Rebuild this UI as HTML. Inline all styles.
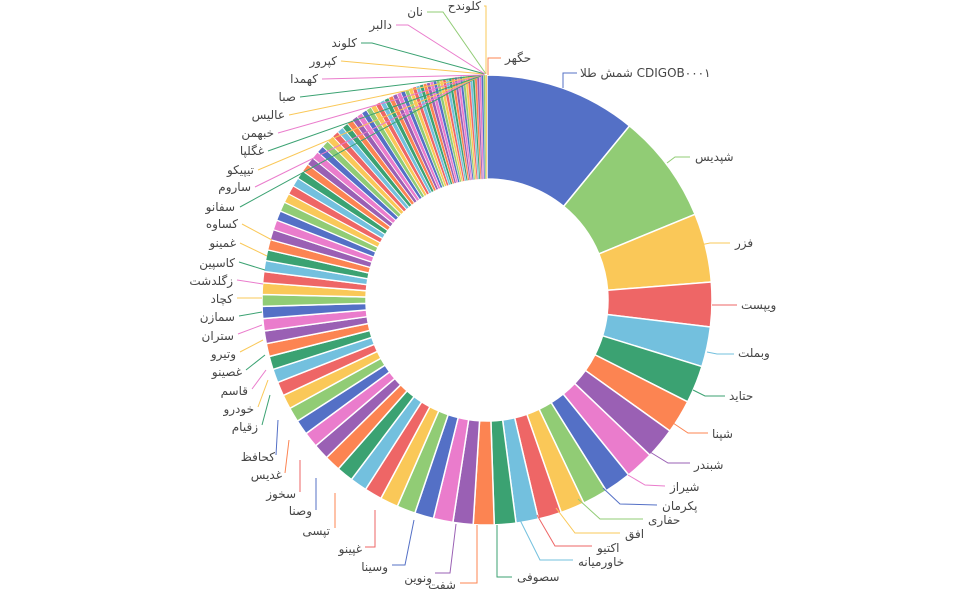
<!DOCTYPE html>
<html><head><meta charset="utf-8">
<style>
body{margin:0;background:#fff;width:974px;height:600px;overflow:hidden;position:relative;font-family:"Liberation Sans","Noto Sans CJK SC",sans-serif}
svg{position:absolute;left:0;top:0}
.l{position:absolute;font-size:12px;line-height:16px;color:#464646;white-space:nowrap;direction:rtl;font-family:"DejaVu Sans","Liberation Sans",sans-serif}
</style></head><body>
<svg id="s" width="974" height="600" xmlns="http://www.w3.org/2000/svg"></svg>
<div id="labs"></div>
<script>
const C=['#5470c6','#91cc75','#fac858','#ee6666','#73c0de','#3ba272','#fc8452','#9a60b4','#ea7ccc'];
const cx=487,cy=300,R=225,r=121;
let ends=[39.3,67.6,85.4,96.9,107.2,116.9,125.6,133.6,141,148];
function f(a){const p=[[148,6.5],[180,5.3],[220,4.2],[270,3.0],[300,2.3],[320,1.6],[340,1.0],[360,0.5]];
for(let i=1;i<p.length;i++){if(a<=p[i][0]){const t=(a-p[i-1][0])/(p[i][0]-p[i-1][0]);return p[i-1][1]+t*(p[i][1]-p[i-1][1]);}}return 0.5;}
let a=148;while(a<359.6){a+=f(a);if(a>360)a=360;ends.push(a);}
if(ends[ends.length-1]<360)ends.push(360);
function pt(rad,deg){const t=deg*Math.PI/180;return [cx+rad*Math.sin(t),cy-rad*Math.cos(t)];}
let h='',s=0;
ends.forEach((e,i)=>{const p1=pt(R,s),p2=pt(R,e),p3=pt(r,e),p4=pt(r,s);const lg=(e-s)>180?1:0;
const sw=Math.min(1.5,(e-s)*0.5).toFixed(2);
h+=`<path d="M${p1[0].toFixed(2)},${p1[1].toFixed(2)}A${R},${R} 0 ${lg} 1 ${p2[0].toFixed(2)},${p2[1].toFixed(2)}L${p3[0].toFixed(2)},${p3[1].toFixed(2)}A${r},${r} 0 ${lg} 0 ${p4[0].toFixed(2)},${p4[1].toFixed(2)}Z" fill="${C[i%9]}" stroke="#fff" stroke-width="${sw}" stroke-linejoin="round"/>`;s=e;});
const L=[
['CDIGOB۰۰۰۱ شمش طلا','R',580,73,[[563,88],[563,73],[577,73]],0],
['شپدیس','R',695,157,[[667,163],[675,157],[690,157]],1],
['فزر','R',735,243,[[700,245],[710,243],[730,243]],2],
['ویپست','R',741,305,[[712,305],[737,305]],3],
['وبملت','R',738,353,[[707,352],[717,354],[734,354]],4],
['حتاید','R',729,396,[[693,390],[705,396],[725,396]],5],
['شپنا','R',712,434,[[673,423],[688,433],[708,433]],6],
['شبندر','R',694,465,[[650,452],[668,463],[690,463]],7],
['شیراز','R',670,487,[[628,475],[645,485],[665,486]],8],
['پکرمان','R',662,506,[[603,488],[620,504],[657,505]],0],
['حفاری','R',648,520,[[578,499],[600,519],[643,519]],1],
['افق','R',625,534,[[556,508],[575,533],[620,533]],2],
['اکتیو','R',597,548,[[537,515],[555,546],[592,546]],3],
['خاورمیانه','R',578,562,[[520,520],[540,560],[573,560]],4],
['سصوفی','R',517,577,[[497,525],[497,577],[512,577]],5],
['شفت','L',456,585,[[477,525],[477,583],[460,583]],6],
['ونوین','L',432,578,[[456,524],[450,573],[435,573]],7],
['وسینا','L',388,567,[[414,520],[405,565],[392,565]],0],
['غپینو','L',362,549,[[375,510],[375,547],[365,547]],3],
['تپسی','L',330,531,[[335,493],[335,528]],6],
['وصنا','L',312,511,[[316,478],[316,510]],0],
['سخوز','L',296,494,[[300,460],[300,492]],3],
['غدیس','L',282,475,[[289,440],[285,473]],6],
['کحافظ','L',275,457,[[278,420],[276,455]],0],
['زقیام','L',258,427,[[270,395],[262,425]],5],
['خودرو','L',254,409,[[268,380],[258,407]],2],
['قاسم','L',248,391,[[266,370],[252,389]],8],
['غصینو','L',242,372,[[265,355],[246,370]],5],
['وتیرو','L',236,354,[[263,340],[240,352]],2],
['ستران','L',234,336,[[262,325],[238,334]],8],
['سمازن','L',235,317,[[262,312],[239,316]],5],
['کچاد','L',233,299,[[262,298],[237,298]],2],
['زگلدشت','L',233,281,[[263,284],[237,280]],8],
['کاسپین','L',235,263,[[265,270],[239,262]],5],
['غمینو','L',236,243,[[267,256],[240,243]],2],
['کساوه','L',238,224,[[272,240],[242,224]],2],
['سفانو','L',235,207,[[480,76],[240,207]],5],
['ساروم','L',251,187,[[480,76],[255,187]],8],
['تیپیکو','L',254,170,[[481,76],[258,170]],2],
['غگلپا','L',264,151,[[481,76],[268,151]],5],
['خبهمن','L',274,133,[[482,75],[278,133]],8],
['عالیس','L',285,115,[[482,75],[289,115]],2],
['صبا','L',296,97,[[483,75],[300,97]],5],
['کهمدا','L',318,79,[[484,75],[322,79]],8],
['کپرور','L',337,61,[[484,74],[341,61]],2],
['کلوند','L',357,43,[[485,74],[372,43],[361,43]],5],
['دالبر','L',392,25,[[485,74],[408,25],[396,25]],8],
['نان','L',423,12,[[486,74],[443,12],[427,12]],1],
['کلوندح','L',481,6,[[486,74],[486,6],[484,6]],2],
['حگهر','R',505,58,[[488,75],[488,58],[501,58]],6]
];
let lab='';
L.forEach(o=>{const col=C[o[5]];h+=`<polyline points="${o[4].map(p=>p.join(',')).join(' ')}" fill="none" stroke="${col}" stroke-width="1"/>`;
if(o[1]=='R')lab+=`<div class="l" style="left:${o[2]}px;top:${o[3]-8}px">${o[0]}</div>`;
else lab+=`<div class="l" style="right:${974-o[2]}px;top:${o[3]-8}px">${o[0]}</div>`;});
document.getElementById('s').innerHTML=h;document.getElementById('labs').innerHTML=lab;
</script>
</body></html>
